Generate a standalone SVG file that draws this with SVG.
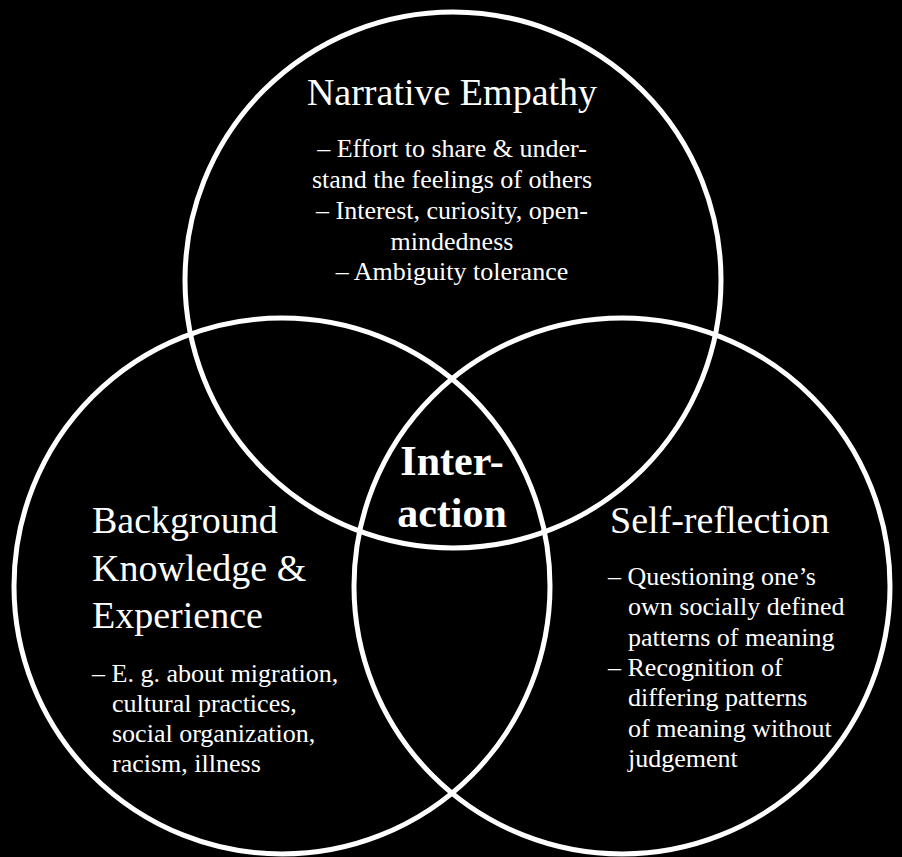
<svg xmlns="http://www.w3.org/2000/svg" width="902" height="857" viewBox="0 0 902 857">
<style>
.ring{fill:none;stroke:#fff;stroke-width:5}
.t text{fill:#fff}
.h{font-size:38px}
.b{font-size:26px}
.c{font-size:42px;font-weight:bold;text-anchor:middle}
.m{text-anchor:middle}
</style>
<rect x="0" y="0" width="902" height="857" fill="#000"/>
<g id="narrative-empathy" class="t" font-family="'Liberation Serif', 'DejaVu Serif', serif">
<circle class="ring" cx="453" cy="280" r="268"/>
<text class="h m" x="452" y="105">Narrative Empathy</text>
<text class="b m" x="452" y="157">– Effort to share &amp; under-</text>
<text class="b m" x="452" y="188">stand the feelings of others</text>
<text class="b m" x="452" y="219">– Interest, curiosity, open-</text>
<text class="b m" x="452" y="249.5">mindedness</text>
<text class="b m" x="452" y="280">– Ambiguity tolerance</text>
</g>
<g id="background-knowledge" class="t" font-family="'Liberation Serif', 'DejaVu Serif', serif">
<circle class="ring" cx="282" cy="586" r="268"/>
<text class="h" x="92" y="533">Background</text>
<text class="h" x="92" y="580.5">Knowledge &amp;</text>
<text class="h" x="92" y="628">Experience</text>
<text class="b" x="92" y="682">– E. g. about migration,</text>
<text class="b" x="112" y="712">cultural practices,</text>
<text class="b" x="112" y="742">social organization,</text>
<text class="b" x="112" y="772">racism, illness</text>
</g>
<g id="self-reflection" class="t" font-family="'Liberation Serif', 'DejaVu Serif', serif">
<circle class="ring" cx="622" cy="586" r="268"/>
<text class="h" x="610" y="533">Self-reflection</text>
<text class="b" x="608" y="585">– Questioning one’s</text>
<text class="b" x="628" y="615.3">own socially defined</text>
<text class="b" x="628" y="645.6">patterns of meaning</text>
<text class="b" x="608" y="676">– Recognition of</text>
<text class="b" x="628" y="706.3">differing patterns</text>
<text class="b" x="628" y="736.6">of meaning without</text>
<text class="b" x="628" y="767">judgement</text>
</g>
<g id="interaction" class="t" font-family="'Liberation Serif', 'DejaVu Serif', serif">
<text class="c" x="452" y="475">Inter-</text>
<text class="c" x="452" y="527">action</text>
</g>
</svg>
